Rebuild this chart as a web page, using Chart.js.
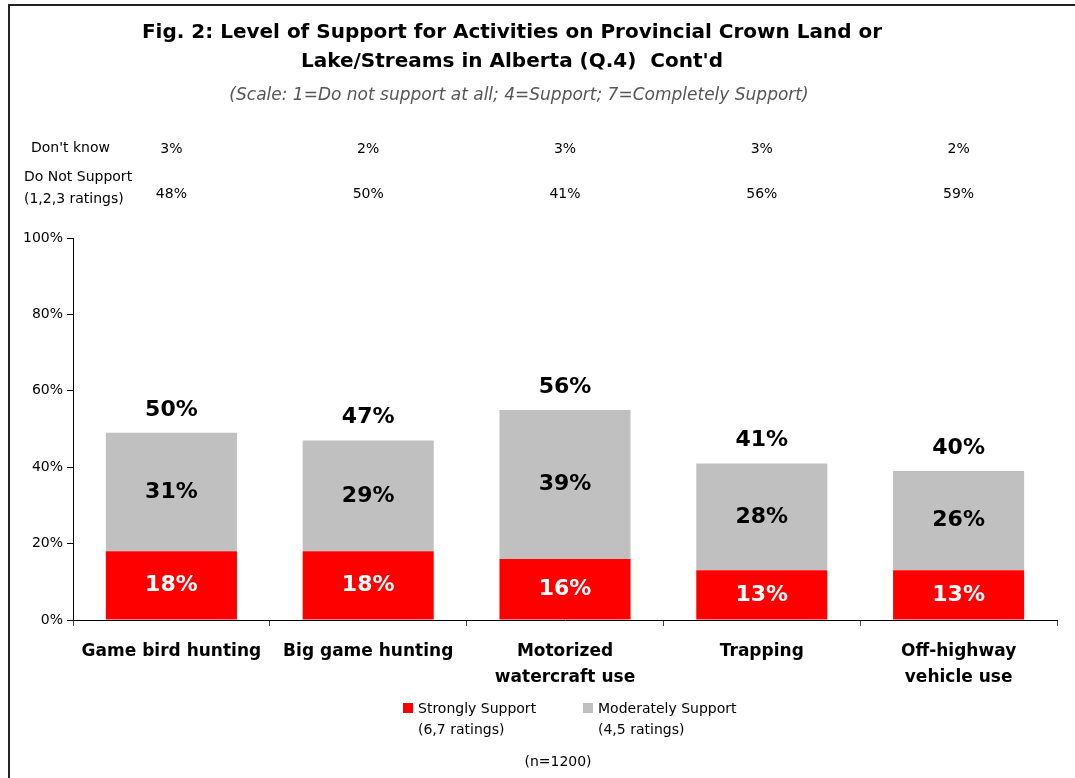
<!DOCTYPE html>
<html>
<head>
<meta charset="utf-8">
<script src="https://cdn.jsdelivr.net/npm/chart.js@4.4.0/dist/chart.umd.min.js"></script>
<style>
  html, body { margin: 0; padding: 0; background: #fff; }
  #wrap { position: relative; width: 1075px; height: 778px; overflow: hidden; }
  #frame { position: absolute; left: 8px; top: 4px; width: 1200px; height: 900px;
           border-left: 2px solid #222; border-top: 2px solid #222; box-sizing: border-box; }
  canvas { position: absolute; left: 0; top: 0; }
</style>
</head>
<body>
<div id="wrap">
  <div id="frame"></div>
  <canvas id="c" width="1075" height="778"></canvas>
</div>
<script>
// Activities and their support levels (percent of respondents)
const categories = [
  'Game bird hunting',
  'Big game hunting',
  ['Motorized', 'watercraft use'],
  'Trapping',
  ['Off-highway', 'vehicle use']
];
const strongly = [18, 18, 16, 13, 13];
const moderately = [31, 29, 39, 28, 26];
const totalSupport = [50, 47, 56, 41, 40];
const dontKnow = [3, 2, 3, 3, 2];
const doNotSupport = [48, 50, 41, 56, 59];
const yTicks = [0, 20, 40, 60, 80, 100];

const FONT = '"DejaVu Sans", sans-serif';

const annotations = {
  id: 'annotations',
  afterDatasetsDraw(chart) {
    const ctx = chart.ctx;
    ctx.save();
    ctx.textAlign = 'center';
    ctx.textBaseline = 'middle';
    // values inside each segment
    chart.data.datasets.forEach((ds, di) => {
      const meta = chart.getDatasetMeta(di);
      meta.data.forEach((el, i) => {
        ctx.font = 'bold 22px ' + FONT;
        ctx.fillStyle = di === 0 ? '#ffffff' : '#000000';
        ctx.fillText(ds.data[i] + '%', el.x, (el.y + el.base) / 2);
      });
    });
    // total support above each stack
    const top = chart.getDatasetMeta(1);
    top.data.forEach((el, i) => {
      ctx.font = 'bold 22px ' + FONT;
      ctx.fillStyle = '#000';
      ctx.fillText(totalSupport[i] + '%', el.x, el.y - 23);
    });
    ctx.restore();
  },
  afterDraw(chart) {
    const ctx = chart.ctx;
    const xs = chart.scales.x;
    ctx.save();
    ctx.fillStyle = '#000';
    ctx.textAlign = 'center';
    ctx.textBaseline = 'middle';
    // title
    ctx.font = 'bold 20px ' + FONT;
    ctx.fillText('Fig. 2: Level of Support for Activities on Provincial Crown Land or', 512, 33);
    ctx.fillText("Lake/Streams in Alberta (Q.4)  Cont'd", 512, 62);
    ctx.font = 'italic 17px ' + FONT;
    ctx.fillStyle = '#555';
    ctx.fillText('(Scale: 1=Do not support at all; 4=Support; 7=Completely Support)', 519, 96);

    // header rows
    ctx.fillStyle = '#000';
    ctx.font = '14px ' + FONT;
    ctx.textAlign = 'left';
    ctx.fillText("Don't know", 31, 148);
    ctx.fillText('Do Not Support', 24, 177);
    ctx.fillText('(1,2,3 ratings)', 24, 199);
    ctx.textAlign = 'center';
    categories.forEach((c, i) => {
      const x = xs.getPixelForValue(i);
      ctx.fillText(dontKnow[i] + '%', x, 149);
      ctx.fillText(doNotSupport[i] + '%', x, 194);
    });

    // legend
    ctx.font = '14px ' + FONT;
    ctx.textAlign = 'left';
    const legendX = [403, 583];
    chart.data.datasets.forEach((ds, di) => {
      const lx = legendX[di];
      ctx.fillStyle = ds.backgroundColor;
      ctx.fillRect(lx, 703, 10, 10);
      ctx.fillStyle = '#000';
      ctx.fillText(ds.label[0], lx + 15, 709);
      ctx.fillText(ds.label[1], lx + 15, 730);
    });
    ctx.textAlign = 'center';
    ctx.fillText('(n=1200)', 558, 762);
    ctx.restore();
  }
};

new Chart(document.getElementById('c'), {
  type: 'bar',
  data: {
    labels: categories,
    datasets: [
      { label: ['Strongly Support', '(6,7 ratings)'], data: strongly, backgroundColor: '#ff0000',
        barPercentage: 0.666, categoryPercentage: 1.0 },
      { label: ['Moderately Support', '(4,5 ratings)'], data: moderately, backgroundColor: '#c0c0c0',
        barPercentage: 0.666, categoryPercentage: 1.0 }
    ]
  },
  options: {
    responsive: false,
    animation: false,
    devicePixelRatio: 1,
    layout: { padding: { left: 0, right: 18, top: 238, bottom: 0 } },
    plugins: { legend: { display: false }, title: { display: false }, tooltip: { enabled: false } },
    scales: {
      x: {
        stacked: true,
        afterFit(scale) { scale.height = 158; },
        grid: { display: true, drawOnChartArea: false, drawTicks: true, tickLength: 6, color: '#444', offset: true },
        border: { display: true, color: '#000', width: 1 },
        ticks: { color: '#000', font: { family: FONT, size: 17, weight: 'bold', lineHeight: 1.53 }, padding: 13, maxRotation: 0, autoSkip: false }
      },
      y: {
        stacked: true,
        min: 0, max: 100,
        afterFit(scale) { scale.width = 73; },
        afterBuildTicks(scale) { scale.ticks = yTicks.map(v => ({ value: v })); },
        grid: { display: true, drawOnChartArea: false, drawTicks: true, tickLength: 6, color: '#000' },
        border: { display: true, color: '#000', width: 1 },
        ticks: { color: '#000', font: { family: FONT, size: 14 }, padding: 4, callback: v => v + '%' }
      }
    }
  },
  plugins: [annotations]
});
</script>
</body>
</html>
